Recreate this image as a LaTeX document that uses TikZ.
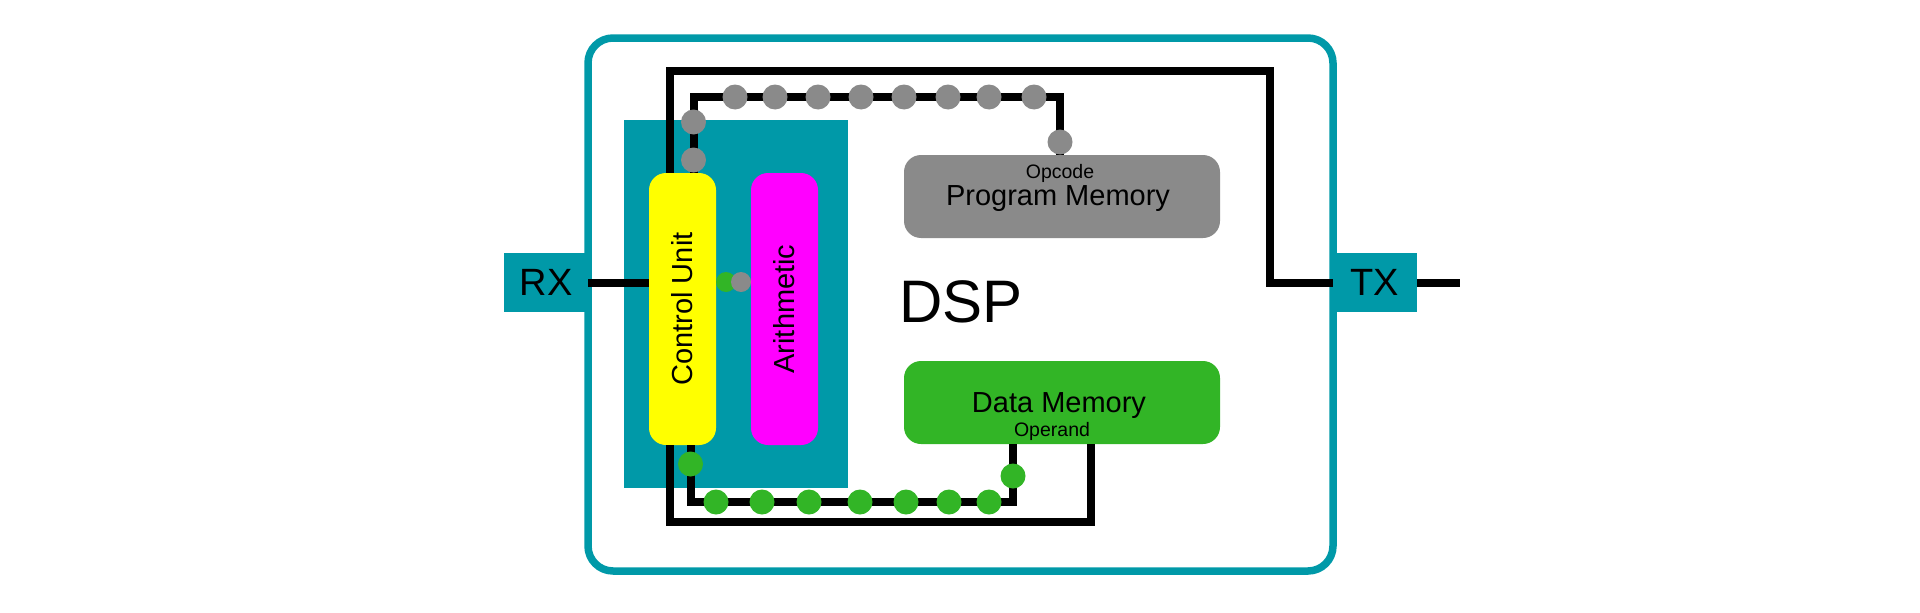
\documentclass[tikz,border=0pt]{standalone}
\usepackage{graphicx}
\usepackage{fontspec}
\setmainfont{Liberation Sans}

\definecolor{dspteal}{RGB}{0,153,168}
\definecolor{cuyellow}{RGB}{255,255,0}
\definecolor{alumagenta}{RGB}{255,0,255}
\definecolor{memgreen}{RGB}{50,181,38}
\definecolor{memgray}{RGB}{138,138,138}

\tikzset{
    bus/.style={line width=8pt},
    busdot/.style={circle, inner sep=0pt, minimum size=25pt},
    pairdot/.style={circle, inner sep=0pt, minimum size=20pt},
    unitbox/.style={rounded corners=17pt, minimum width=67pt, minimum height=272pt, inner sep=0pt, font=\fontsize{29}{30}\selectfont},
    membox/.style={rounded corners=17pt, minimum width=316pt, minimum height=83pt, inner sep=0pt},
    portbox/.style={fill=dspteal, minimum width=84pt, minimum height=59pt, inner sep=0pt, font=\fontsize{38}{40}\selectfont},
    bigtext/.style={anchor=base, font=\fontsize{29}{30}\selectfont},
    smalltext/.style={anchor=base, font=\fontsize{19.5}{20}\selectfont}
}

\begin{document}
\begin{tikzpicture}[x=1pt, y=-1pt]
    \useasboundingbox (0, 0) rectangle (1920, 613);

    \node[draw=dspteal, line width=7.5pt, rounded corners=25pt, minimum width=745pt, minimum height=533pt, inner sep=0pt] (dsp) at (960.5, 304.5) {};
    \node[fill=dspteal, minimum width=224pt, minimum height=368pt, inner sep=0pt] (core) at (736, 304) {};

    \node[unitbox, fill=cuyellow] (cu) at (682.5, 309) {\rotatebox{90}{Control Unit}};
    \node[unitbox, fill=alumagenta] (alu) at (784.5, 309) {\rotatebox{90}{Arithmetic}};

        \node[membox, fill=memgray] (progmem) at (1062, 196.5) {};
        \node[membox, fill=memgreen] (datamem) at (1062, 402.5) {};
            \node[smalltext] (opcode) at (1060, 178) {Opcode};
            \node[bigtext] (pmtext) at (1058, 205) {Program Memory};
            \node[bigtext] (dmtext) at (1059, 412) {Data Memory};
            \node[smalltext] (operand) at (1052, 436) {Operand};

    \node[anchor=base, font=\fontsize{60}{60}\selectfont] (dsplabel) at (961, 322) {DSP};

    \coordinate (topbend) at (1270, 71);
    \coordinate (opbend) at (1060, 97);
    \coordinate (dmbend) at (1013, 502);
    \coordinate (botbend) at (1091, 522);
    \coordinate (txend) at (1460, 282.5);

    \draw[bus] ([xshift=-13pt]cu.north) |- (topbend) |- (1333, 282.5) -- (txend);
    \draw[bus] ([xshift=11pt]cu.north) |- (opbend) -- (opbend |- progmem.north);
    \draw[bus] ([xshift=8pt]cu.south) |- (dmbend) -- (dmbend |- datamem.south);
    \draw[bus] ([xshift=-13pt]cu.south) |- (botbend) -- (botbend |- datamem.south);

    \node[portbox] (rx) at (546, 282.5) {RX};
    \node[portbox] (tx) at (1375, 282.5) {TX};
    \draw[bus] (rx.east) -- (rx.east -| cu.west);

    % opcode bus
        \node[busdot, fill=memgray] (g1) at (693.5, 122) {};
        \node[busdot, fill=memgray] (g2) at (693.5, 160) {};
        \node[busdot, fill=memgray] (g3) at (735, 97) {};
        \node[busdot, fill=memgray] (g4) at (775, 97) {};
        \node[busdot, fill=memgray] (g5) at (818, 97) {};
        \node[busdot, fill=memgray] (g6) at (861, 97) {};
        \node[busdot, fill=memgray] (g7) at (904, 97) {};
        \node[busdot, fill=memgray] (g8) at (948, 97) {};
        \node[busdot, fill=memgray] (g9) at (989, 97) {};
        \node[busdot, fill=memgray] (g10) at (1034, 97) {};
        \node[busdot, fill=memgray] (g11) at (1060, 142) {};

    % operand bus
        \node[busdot, fill=memgreen] (d1) at (690.5, 464) {};
        \node[busdot, fill=memgreen] (d2) at (716, 502) {};
        \node[busdot, fill=memgreen] (d3) at (762, 502) {};
        \node[busdot, fill=memgreen] (d4) at (809, 502) {};
        \node[busdot, fill=memgreen] (d5) at (860, 502) {};
        \node[busdot, fill=memgreen] (d6) at (906, 502) {};
        \node[busdot, fill=memgreen] (d7) at (949, 502) {};
        \node[busdot, fill=memgreen] (d8) at (989, 502) {};
        \node[busdot, fill=memgreen] (d9) at (1013, 476) {};

    \node[pairdot, fill=memgreen] (pairg) at (726, 282) {};
    \node[pairdot, fill=memgray] (pairp) at (741, 282) {};
\end{tikzpicture}
\end{document}
